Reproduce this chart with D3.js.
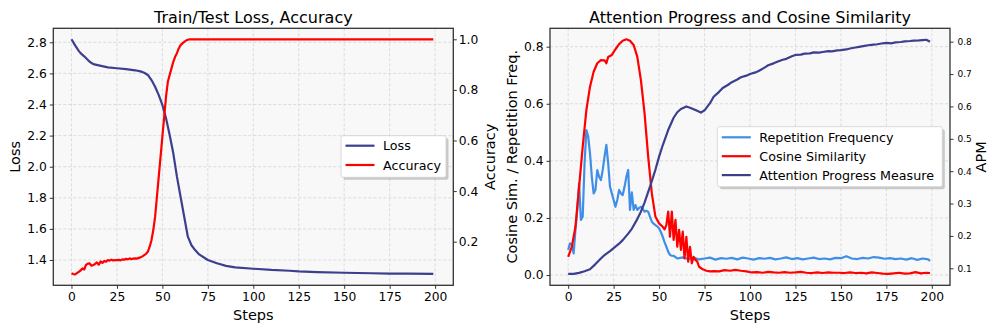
<!DOCTYPE html>
<html>
<head>
<meta charset="utf-8">
<script src="https://cdn.jsdelivr.net/npm/d3@7"></script>
<style>
  body { margin: 0; background: #fff; }
  svg { font-family: "DejaVu Sans", sans-serif; }
  .grid line { stroke: #d4d4d4; stroke-dasharray: 3,2; stroke-width: 0.8; }
  .tick line { stroke: #333; stroke-width: 1; }
  .tick text { fill: #000; }
</style>
</head>
<body>
<svg id="chart" width="997" height="332"></svg>
<script>
"use strict";

// ---- data: [step, value] ----
const lossData = [[0,2.82],[2,2.78],[4,2.745],[5,2.73],[7,2.71],[10,2.675],[12,2.66],[15,2.652],[20,2.639],
  [25,2.633],[30,2.627],[35,2.62],[38,2.613],[40,2.604],[42,2.59],[44,2.557],[46,2.514],[48,2.46],[50,2.397],
  [52,2.311],[54,2.204],[56,2.086],[58,1.936],[60,1.807],[62,1.678],[64,1.55],[66,1.495],[68,1.464],[70,1.438],
  [75,1.40],[80,1.379],[85,1.362],[90,1.353],[100,1.344],[110,1.336],[120,1.331],[125,1.327],[135,1.322],
  [150,1.318],[165,1.315],[175,1.313],[185,1.312],[199,1.311]];

const accData = [[0,0.075],[1,0.072],[2,0.071],[3,0.076],[4,0.081],[5,0.086],[6,0.094],[7,0.09],[8,0.108],
  [9,0.113],[10,0.114],[11,0.105],[12,0.108],[13,0.112],[14,0.118],[15,0.109],[16,0.122],[17,0.116],[18,0.124],
  [19,0.121],[20,0.127],[21,0.125],[22,0.129],[23,0.126],[24,0.127],[25,0.127],[26,0.128],[27,0.126],[28,0.13],
  [29,0.129],[30,0.132],[31,0.13],[32,0.134],[33,0.131],[34,0.133],[35,0.134],[36,0.133],[37,0.136],[38,0.138],
  [39,0.142],[40,0.147],[41,0.152],[42,0.16],[43,0.18],[44,0.206],[45,0.246],[46,0.299],[47,0.378],[48,0.457],
  [49,0.536],[50,0.615],[51,0.694],[52,0.773],[53,0.832],[54,0.859],[55,0.885],[56,0.911],[57,0.931],[58,0.945],
  [59,0.964],[60,0.977],[61,0.984],[62,0.99],[63,0.995],[64,0.998],[65,1.0],[199,1.0]];

const repFreqData = [[0,0.088],[1,0.111],[2,0.105],[3,0.076],[4,0.158],[5,0.228],[6,0.321],[7,0.193],[8,0.204],
  [9,0.391],[10,0.508],[11,0.485],[12,0.426],[13,0.344],[14,0.286],[15,0.298],[16,0.368],[17,0.344],[18,0.333],
  [19,0.368],[20,0.415],[21,0.456],[22,0.391],[23,0.309],[24,0.286],[25,0.263],[26,0.239],[27,0.263],[28,0.298],
  [29,0.286],[30,0.28],[31,0.309],[32,0.344],[33,0.368],[34,0.228],[35,0.29],[36,0.228],[37,0.245],[38,0.228],
  [39,0.235],[40,0.239],[41,0.232],[42,0.222],[43,0.225],[44,0.222],[45,0.204],[46,0.187],[47,0.18],[48,0.175],
  [49,0.17],[50,0.164],[51,0.15],[52,0.134],[53,0.115],[54,0.099],[55,0.082],[56,0.07],[57,0.068],[58,0.067],
  [59,0.063],[60,0.058],[63,0.062],[66,0.056],[69,0.06],[72,0.055],[75,0.058],[78,0.061],[81,0.054],[84,0.059],
  [87,0.057],[90,0.06],[93,0.055],[96,0.061],[99,0.058],[102,0.054],[105,0.059],[108,0.057],[111,0.06],[114,0.055],
  [117,0.058],[120,0.062],[123,0.056],[126,0.059],[129,0.055],[132,0.058],[135,0.061],[138,0.056],[141,0.058],
  [144,0.055],[147,0.06],[150,0.059],[153,0.066],[156,0.058],[159,0.056],[162,0.06],[165,0.058],[168,0.063],
  [171,0.061],[174,0.057],[177,0.059],[180,0.056],[183,0.058],[186,0.054],[189,0.059],[192,0.053],[195,0.058],
  [198,0.055],[199,0.049]];

const cosSimData = [[0,0.064],[2,0.099],[4,0.169],[6,0.309],[8,0.45],[10,0.578],[12,0.66],[14,0.712],[16,0.742],
  [18,0.753],[20,0.752],[21,0.742],[22,0.764],[24,0.771],[26,0.791],[28,0.809],[30,0.821],[32,0.826],[34,0.821],
  [36,0.806],[38,0.765],[40,0.683],[42,0.567],[44,0.415],[46,0.286],[48,0.204],[50,0.181],[52,0.169],[53,0.16],
  [54,0.175],[55,0.222],[56,0.134],[57,0.222],[58,0.123],[59,0.193],[60,0.099],[61,0.158],[62,0.088],[63,0.152],
  [64,0.058],[65,0.134],[66,0.047],[67,0.099],[68,0.041],[69,0.064],[70,0.053],[71,0.047],[72,0.029],[74,0.02],
  [76,0.015],[78,0.013],[80,0.014],[83,0.013],[86,0.017],[89,0.015],[92,0.018],[95,0.015],[98,0.013],[101,0.009],
  [104,0.01],[107,0.008],[110,0.011],[113,0.009],[116,0.008],[119,0.01],[122,0.008],[125,0.009],[128,0.011],
  [131,0.008],[134,0.007],[137,0.009],[140,0.007],[143,0.009],[146,0.008],[149,0.008],[152,0.007],[155,0.009],
  [158,0.007],[161,0.008],[164,0.006],[167,0.009],[170,0.007],[173,0.005],[176,0.004],[179,0.006],[182,0.008],
  [185,0.005],[188,0.006],[191,0.01],[194,0.006],[197,0.008],[199,0.007]];

const apmData = [[0,0.083],[3,0.083],[6,0.086],[9,0.091],[12,0.097],[15,0.113],[18,0.13],[20,0.141],[23,0.153],
  [25,0.162],[28,0.176],[30,0.187],[33,0.207],[35,0.222],[38,0.252],[40,0.275],[42,0.303],[45,0.352],[48,0.405],
  [50,0.445],[52,0.48],[55,0.527],[58,0.565],[60,0.582],[62,0.592],[65,0.6],[67,0.596],[70,0.589],[73,0.581],
  [75,0.588],[78,0.61],[80,0.63],[83,0.645],[85,0.657],[88,0.667],[90,0.675],[93,0.683],[95,0.69],[98,0.695],
  [100,0.7],[103,0.705],[105,0.71],[108,0.72],[110,0.727],[113,0.733],[115,0.738],[118,0.744],[120,0.747],
  [123,0.755],[125,0.759],[128,0.76],[130,0.763],[133,0.764],[135,0.767],[138,0.766],[140,0.768],[143,0.771],
  [145,0.77],[148,0.773],[150,0.774],[153,0.776],[155,0.779],[158,0.782],[160,0.784],[163,0.787],[165,0.789],
  [168,0.791],[170,0.792],[173,0.795],[175,0.796],[178,0.795],[180,0.798],[183,0.799],[185,0.801],[188,0.802],
  [190,0.803],[193,0.804],[195,0.805],[197,0.806],[199,0.8]];

const stepTicks = [0, 25, 50, 75, 100, 125, 150, 175, 200];
const lossTicks = [1.4, 1.6, 1.8, 2.0, 2.2, 2.4, 2.6, 2.8];
const accTicks = [0.2, 0.4, 0.6, 0.8, 1.0];
const simTicks = [0.0, 0.2, 0.4, 0.6, 0.8];
const apmTicks = [0.1, 0.2, 0.3, 0.4, 0.5, 0.6, 0.7, 0.8];

const NAVY = "#3b3f8e";
const RED = "#ff0000";
const BLUE = "#3f8fe8";

const svg = d3.select("#chart");

function panel(opt) {
  const x = d3.scaleLinear().domain([-10, 210]).range([opt.x0, opt.x1]);
  const yL = d3.scaleLinear().domain(opt.leftDomain).range([opt.y1, opt.y0]);
  const yR = d3.scaleLinear().domain(opt.rightDomain).range([opt.y1, opt.y0]);
  const g = svg.append("g");

  g.append("rect")
    .attr("x", opt.x0).attr("y", opt.y0)
    .attr("width", opt.x1 - opt.x0).attr("height", opt.y1 - opt.y0)
    .attr("fill", "#f8f8f8");

  // grid
  const grid = g.append("g").attr("class", "grid");
  grid.selectAll("line.v").data(stepTicks).enter().append("line")
    .attr("x1", d => x(d)).attr("x2", d => x(d))
    .attr("y1", opt.y0).attr("y2", opt.y1);
  grid.selectAll("line.h").data(opt.leftTicks).enter().append("line")
    .attr("x1", opt.x0).attr("x2", opt.x1)
    .attr("y1", d => yL(d)).attr("y2", d => yL(d));

  const line = (yScale) => d3.line().x(d => x(d[0])).y(d => yScale(d[1]));
  opt.series.forEach(function (s) {
    g.append("path")
      .datum(s.data)
      .attr("fill", "none")
      .attr("stroke", s.color)
      .attr("stroke-width", 2.2)
      .attr("stroke-linejoin", "round")
      .attr("d", line(s.axis === "right" ? yR : yL));
  });

  // axes
  const fmt = d3.format(".1f");
  g.append("g").attr("transform", "translate(0," + opt.y1 + ")")
    .call(d3.axisBottom(x).tickValues(stepTicks).tickSize(3.5).tickPadding(3))
    .call(a => a.select(".domain").remove())
    .selectAll("text").attr("font-size", 12.3).attr("font-family", "DejaVu Sans");
  g.append("g").attr("transform", "translate(" + opt.x0 + ",0)")
    .call(d3.axisLeft(yL).tickValues(opt.leftTicks).tickFormat(fmt).tickSize(3.5).tickPadding(3))
    .call(a => a.select(".domain").remove())
    .selectAll("text").attr("font-size", 12.3).attr("font-family", "DejaVu Sans");
  g.append("g").attr("transform", "translate(" + opt.x1 + ",0)")
    .call(d3.axisRight(yR).tickValues(opt.rightTicks).tickFormat(fmt).tickSize(3.5).tickPadding(opt.rightPad))
    .call(a => a.select(".domain").remove())
    .selectAll("text").attr("font-size", opt.rightFont).attr("font-family", "DejaVu Sans");

  g.append("rect")
    .attr("x", opt.x0).attr("y", opt.y0)
    .attr("width", opt.x1 - opt.x0).attr("height", opt.y1 - opt.y0)
    .attr("fill", "none").attr("stroke", "#333").attr("stroke-width", 1.3);

  // texts
  const cx = (opt.x0 + opt.x1) / 2, cy = (opt.y0 + opt.y1) / 2;
  g.append("text").attr("x", cx).attr("y", 22.5).attr("text-anchor", "middle")
    .attr("font-size", 16).text(opt.title);
  g.append("text").attr("x", cx).attr("y", 320).attr("text-anchor", "middle")
    .attr("font-size", 14.5).text("Steps");
  g.append("text").attr("transform", "translate(" + opt.leftLabelX + "," + cy + ") rotate(-90)")
    .attr("text-anchor", "middle").attr("dy", "0.35em")
    .attr("font-size", 14.5).text(opt.leftLabel);
  g.append("text").attr("transform", "translate(" + opt.rightLabelX + "," + cy + ") rotate(-90)")
    .attr("text-anchor", "middle").attr("dy", "0.35em")
    .attr("font-size", 14.5).text(opt.rightLabel);

  // legend
  const L = opt.legend;
  const lg = g.append("g");
  lg.append("rect").attr("x", L.x + 2.5).attr("y", L.y + 2.5).attr("width", L.w).attr("height", L.h)
    .attr("rx", 2).attr("fill", "#999").attr("opacity", 0.5);
  lg.append("rect").attr("x", L.x).attr("y", L.y).attr("width", L.w).attr("height", L.h)
    .attr("rx", 2).attr("fill", "#fff").attr("stroke", "#d0d0d0").attr("stroke-width", 0.8);
  opt.series.forEach(function (s, i) {
    const yy = L.y + L.first + i * L.gap;
    lg.append("line").attr("x1", L.x + 4.5).attr("x2", L.x + 33.5)
      .attr("y1", yy).attr("y2", yy).attr("stroke", s.color).attr("stroke-width", 2.2);
    lg.append("text").attr("x", L.x + 42).attr("y", yy).attr("dy", "0.36em")
      .attr("font-size", 12.7).text(s.name);
  });
}

panel({
  x0: 53.3, x1: 453.3, y0: 28.3, y1: 285.3,
  leftDomain: [1.2374, 2.89], rightDomain: [0.0276, 1.0435],
  leftTicks: lossTicks, rightTicks: accTicks, rightFont: 12.3, rightPad: 2,
  title: "Train/Test Loss, Accuracy",
  leftLabel: "Loss", leftLabelX: 15, rightLabel: "Accuracy", rightLabelX: 489.5,
  legend: { x: 341, y: 135.7, w: 105, h: 41.6, first: 10, gap: 19.3 },
  series: [
    { name: "Loss", data: lossData, color: NAVY, axis: "left" },
    { name: "Accuracy", data: accData, color: RED, axis: "right" }
  ]
});

panel({
  x0: 550, x1: 950, y0: 28.3, y1: 285.3,
  leftDomain: [-0.036, 0.8644], rightDomain: [0.0475, 0.8413],
  leftTicks: simTicks, rightTicks: apmTicks, rightFont: 9, rightPad: 4,
  title: "Attention Progress and Cosine Similarity",
  leftLabel: "Cosine Sim. / Repetition Freq.", leftLabelX: 512, rightLabel: "APM", rightLabelX: 980.5,
  legend: { x: 717.3, y: 126.7, w: 225, h: 60, first: 10.6, gap: 18.9 },
  series: [
    { name: "Repetition Frequency", data: repFreqData, color: BLUE, axis: "left" },
    { name: "Cosine Similarity", data: cosSimData, color: RED, axis: "left" },
    { name: "Attention Progress Measure", data: apmData, color: NAVY, axis: "right" }
  ]
});
</script>
</body>
</html>
